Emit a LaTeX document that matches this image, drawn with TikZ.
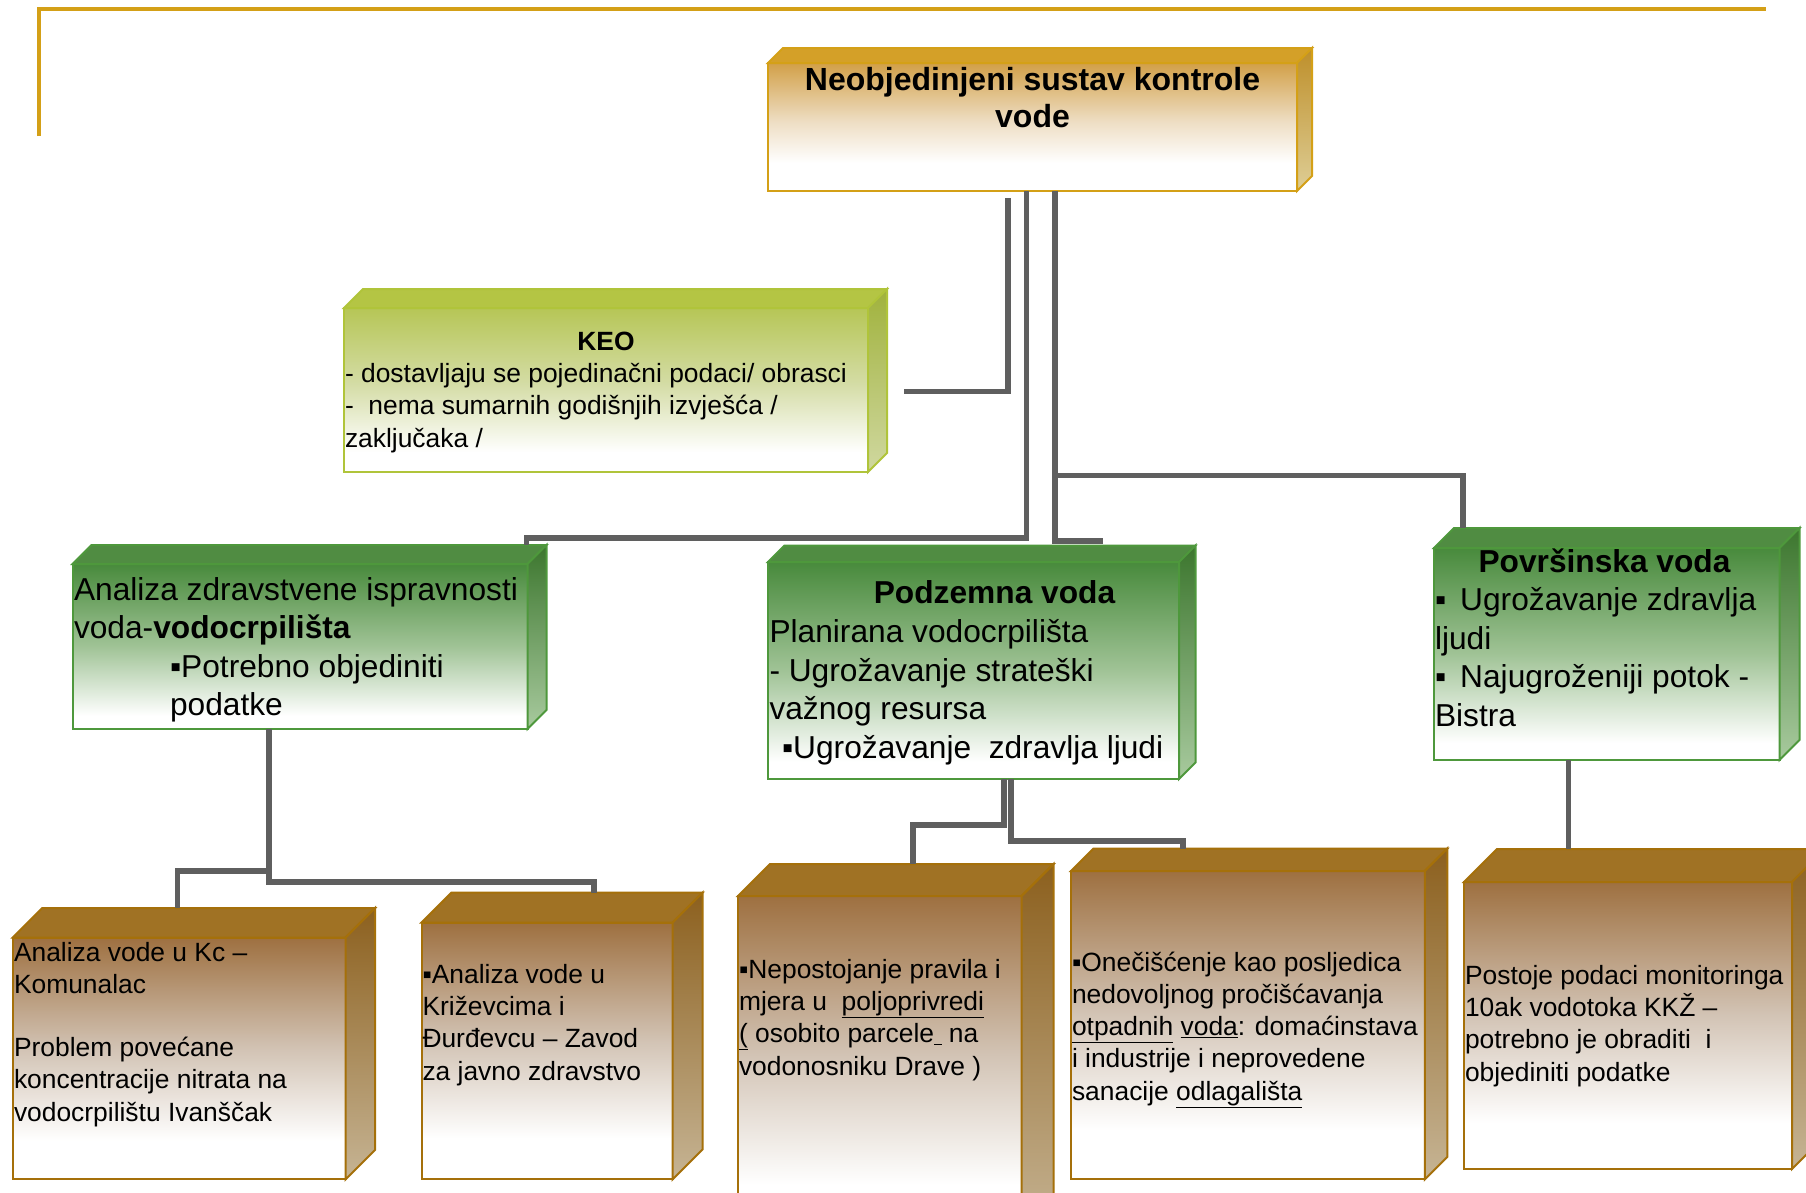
\documentclass[tikz,border=0pt]{standalone}
\usepackage{fontspec}
\setmainfont{Liberation Sans}
\usetikzlibrary{calc}

\definecolor{conncol}{RGB}{95,95,95}
\definecolor{goldline}{RGB}{212,160,23}
% title (gold)
\definecolor{tiTopF}{RGB}{212,160,40}
\definecolor{tiFtop}{RGB}{210,160,72}
\definecolor{tiFmid}{RGB}{238,222,196}
\definecolor{tiSideA}{RGB}{190,143,42}
\definecolor{tiSideB}{RGB}{222,206,150}
\definecolor{tiBorder}{RGB}{212,160,23}
% KEO (yellow green)
\definecolor{keTopF}{RGB}{180,197,68}
\definecolor{keFtop}{RGB}{182,198,86}
\definecolor{keFmid}{RGB}{212,220,165}
\definecolor{keSideA}{RGB}{160,178,60}
\definecolor{keSideB}{RGB}{208,216,160}
\definecolor{keBorder}{RGB}{176,196,58}
% green
\definecolor{grTopF}{RGB}{80,140,66}
\definecolor{grFtop}{RGB}{72,138,60}
\definecolor{grFmid}{RGB}{160,195,150}
\definecolor{grSideA}{RGB}{60,118,46}
\definecolor{grSideB}{RGB}{168,202,158}
\definecolor{grBorder}{RGB}{78,152,60}
% brown
\definecolor{brTopF}{RGB}{160,114,36}
\definecolor{brFtop}{RGB}{158,112,64}
\definecolor{brFmid}{RGB}{210,195,180}
\definecolor{brSideA}{RGB}{140,96,30}
\definecolor{brSideB}{RGB}{198,180,148}
\definecolor{brBorder}{RGB}{165,112,10}

\pgfdeclareverticalshading{tiFrontSh}{100bp}{color(0bp)=(white); color(36bp)=(white); color(52bp)=(tiFmid); color(75bp)=(tiFtop); color(100bp)=(tiFtop)}
\pgfdeclareverticalshading{keFrontSh}{100bp}{color(0bp)=(white); color(31bp)=(white); color(52bp)=(keFmid); color(75bp)=(keFtop); color(100bp)=(keFtop)}
\pgfdeclareverticalshading{grFrontSh}{100bp}{color(0bp)=(white); color(29bp)=(white); color(50bp)=(grFmid); color(75bp)=(grFtop); color(100bp)=(grFtop)}
\pgfdeclareverticalshading{brFrontSh}{100bp}{color(0bp)=(white); color(33bp)=(white); color(52bp)=(brFmid); color(75bp)=(brFtop); color(100bp)=(brFtop)}

\newcommand\titlefnt{\fontsize{32}{36.5}\selectfont\bfseries}
\newcommand\bigfnt{\fontsize{31.7}{38.4}\selectfont}
\newcommand\bigbfnt{\fontsize{31.7}{38.4}\selectfont\bfseries}
\newcommand\smallfnt{\fontsize{26.4}{32.2}\selectfont}
\newcommand\smallbfnt{\fontsize{26.4}{32.2}\selectfont\bfseries}

\tikzset{
  facebase/.style={line width=2, inner sep=0pt, outer sep=0pt},
  tifront/.style={facebase, draw=tiBorder, shade, shading=tiFrontSh},
  titop/.style={facebase, draw=tiBorder, fill=tiTopF},
  tiside/.style={facebase, draw=tiBorder, top color=tiSideA, bottom color=tiSideB},
  kefront/.style={facebase, draw=keBorder, shade, shading=keFrontSh},
  ketop/.style={facebase, draw=keBorder, fill=keTopF},
  keside/.style={facebase, draw=keBorder, top color=keSideA, bottom color=keSideB},
  grfront/.style={facebase, draw=grBorder, shade, shading=grFrontSh},
  grtop/.style={facebase, draw=grBorder, fill=grTopF},
  grside/.style={facebase, draw=grBorder, top color=grSideA, bottom color=grSideB},
  brfront/.style={facebase, draw=brBorder, shade, shading=brFrontSh},
  brtop/.style={facebase, draw=brBorder, fill=brTopF},
  brside/.style={facebase, draw=brBorder, top color=brSideA, bottom color=brSideB},
  conn/.style={draw=conncol, line width=5.5},
  frameline/.style={draw=goldline, line width=4.5},
  txt/.style={inner sep=0pt, outer sep=0pt, text=black},
}

% #1 name, #2 L, #3 T, #4 R, #5 B, #6 depth, #7 style prefix
\newcommand\cubebox[7]{%
  \node[#7front, minimum width={#4-#2}, minimum height={#5-#3}, anchor=north west] (#1) at (#2,-#3) {};
  \filldraw[#7top] (#1.north west) -- ++(#6,#6) -- ([shift={(#6,#6)}]#1.north east) -- (#1.north east) -- cycle;
  \filldraw[#7side] (#1.north east) -- ++(#6,#6) -- ([shift={(#6,#6)}]#1.south east) -- (#1.south east) -- cycle;
}

\begin{document}
\begin{tikzpicture}[x=1pt,y=1pt]
\useasboundingbox (0,0) rectangle (1806,-1192);
\clip (0,0) rectangle (1806,-1192);
\fill[white] (0,0) rectangle (1806,-1192);

% gold frame corner
\draw[frameline] (39,-136) -- (39,-9) -- (1766,-9);

% boxes
\cubebox{title}{768}{63}{1297}{191}{15}{ti}
\cubebox{keo}{344}{308}{868}{472}{19}{ke}
\cubebox{lgreen}{72.5}{564}{527.5}{729}{19}{gr}
\cubebox{cgreen}{768}{562}{1179}{779}{16.5}{gr}
\cubebox{rgreen}{1434}{548}{1779.5}{760}{20}{gr}
\cubebox{bone}{12.7}{937.6}{345.5}{1179.4}{29.5}{br}
\cubebox{btwo}{421.5}{922.6}{672.6}{1179.4}{30}{br}
\cubebox{bthree}{738}{896}{1021.6}{1240}{32}{br}
\cubebox{bfour}{1071}{871}{1424.8}{1179.4}{22.5}{br}
\cubebox{bfive}{1464}{882}{1792}{1169}{33}{br}

% texts (multi-line nodes: base anchor = baseline of the last line)
\node[txt, font=\titlefnt, align=center, anchor=base] (titletxt) at (1032.5,-127) {Neobjedinjeni sustav kontrole\\vode};

\node[txt, font=\smallbfnt, anchor=base] (keohead) at (606,-350) {KEO};
\node[txt, font=\smallfnt, align=left, anchor=base west] (keotxt) at (345,-447)
  {- dostavljaju se pojedinačni podaci/ obrasci\\-\ \ nema sumarnih godišnjih izvješća /\\zaključaka /};

\node[txt, font=\bigfnt, align=left, anchor=base west] (lgtxt) at (74,-715.5)
  {Analiza zdravstvene ispravnosti\\voda-\textbf{vodocrpilišta}\\\hspace*{96pt}▪Potrebno objediniti\\\hspace*{96pt}podatke};

\node[txt, font=\bigbfnt, anchor=base] (cghead) at (994.5,-603.5) {Podzemna voda};
\node[txt, font=\bigfnt, align=left, anchor=base west] (cgtxt) at (769.5,-758)
  {Planirana vodocrpilišta\\- Ugrožavanje strateški\\važnog resursa\\\hspace*{12.5pt}▪Ugrožavanje\ \ zdravlja ljudi};

\node[txt, font=\bigbfnt, anchor=base] (rghead) at (1604.5,-572.5) {Površinska voda};
\node[txt, font=\bigfnt, align=left, anchor=base west] (rgtxt) at (1435,-726)
  {▪\hspace{14pt}Ugrožavanje zdravlja\\ljudi\\▪\hspace{14pt}Najugroženiji potok -\\Bistra};

\node[txt, font=\smallfnt, align=left, anchor=base west] (b1txt) at (14,-1121)
  {Analiza vode u Kc –\\Komunalac\\[31pt]Problem povećane\\koncentracije nitrata na\\vodocrpilištu Ivanščak};
\node[txt, font=\smallfnt, align=left, anchor=base west] (b2txt) at (422.5,-1080)
  {▪Analiza vode u\\Križevcima i\\Đurđevcu – Zavod\\za javno zdravstvo};
\node[txt, font=\smallfnt, align=left, anchor=base west] (b3txt) at (739,-1075)
  {▪Nepostojanje pravila i\\mjera u\ \ \underline{poljoprivredi}\\\underline{(}\ osobito parcele\underline{\ }\ na\\vodonosniku Drave )};
\node[txt, font=\smallfnt, align=left, anchor=base west] (b4txt) at (1072,-1100)
  {▪Onečišćenje kao posljedica\\nedovoljnog pročišćavanja\\\underline{otpadnih} \underline{voda}: domaćinstava\\i industrije i neprovedene\\sanacije \underline{odlagališta}};
\node[txt, font=\smallfnt, align=left, anchor=base west] (b5txt) at (1465,-1081)
  {Postoje podaci monitoringa\\10ak vodotoka KKŽ –\\potrebno je obraditi\ \ i\\objediniti podatke};

% connectors
\draw[conn] ([xshift=240,yshift=-7]title.south west) |- ([xshift=36,yshift=-1.6]keo.east);
\draw[conn] ([xshift=258.3]title.south west) -- ++(0,-347) -| ([xshift=-1,yshift=19]lgreen.north east);
\draw[conn] ([xshift=287]title.south west) |- ([xshift=335,yshift=21]cgreen.north west);
\draw[conn] ([xshift=287,yshift=-284.7]title.south west) -| ([xshift=29,yshift=20]rgreen.north west);

\draw[conn] ([xshift=196.5]lgreen.south west) -- ++(0,-142) -| ([xshift=165,yshift=29.5]bone.north west);
\draw[conn] ([xshift=196.5]lgreen.south west) -- ++(0,-153) -| ([xshift=172.5,yshift=30]btwo.north west);

\draw[conn] ([xshift=236]cgreen.south west) -- ++(0,-46) -| ([xshift=175,yshift=32]bthree.north west);
\draw[conn] ([xshift=243]cgreen.south west) -- ++(0,-62) -| ([xshift=112,yshift=22.5]bfour.north west);

\draw[conn] ([xshift=134.7]rgreen.south west) -- ([xshift=104.7,yshift=33]bfive.north west);
\end{tikzpicture}
\end{document}
